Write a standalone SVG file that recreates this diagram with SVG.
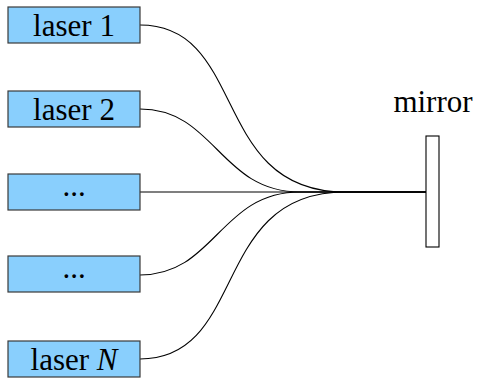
<svg xmlns="http://www.w3.org/2000/svg" width="478" height="379" viewBox="0 0 478 379">
<style>
.box{fill:#89CFFD;stroke:#3a3a3a;stroke-width:1.2}
.lbl{font-family:'Liberation Serif',serif;font-size:31px;fill:#000;text-anchor:middle}
.wire{fill:none;stroke:#000;stroke-width:1.1}
</style>
<rect width="478" height="379" fill="#fff"/>
<g id="connectors">
<path class="wire" d="M140,25 C248,25 210,192 345,192 L427,192"/>
<path class="wire" d="M140,109 C215,109 220,192 300,192 L427,192"/>
<path class="wire" d="M140,192 L427,192"/>
<path class="wire" d="M140,275 C215,275 220,192 300,192 L427,192"/>
<path class="wire" d="M140,359 C248,359 210,192 345,192 L427,192"/>
</g>
<g id="laser1"><rect class="box" x="8" y="7" width="132" height="36"/><text class="lbl" x="74" y="36">laser 1</text></g>
<g id="laser2"><rect class="box" x="8" y="91" width="132" height="36"/><text class="lbl" x="74" y="120">laser 2</text></g>
<g id="dots1"><rect class="box" x="8" y="174" width="132" height="36"/><text class="lbl" x="74" y="196">...</text></g>
<g id="dots2"><rect class="box" x="8" y="256" width="132" height="36"/><text class="lbl" x="74" y="278">...</text></g>
<g id="laserN"><rect class="box" x="8" y="341" width="132" height="36"/><text class="lbl" x="74" y="370">laser <tspan font-style="italic">N</tspan></text></g>
<g id="mirror"><rect x="426" y="136" width="13" height="111" fill="#fff" stroke="#000" stroke-width="1.1"/><text class="lbl" x="433" y="112">mirror</text></g>
</svg>
